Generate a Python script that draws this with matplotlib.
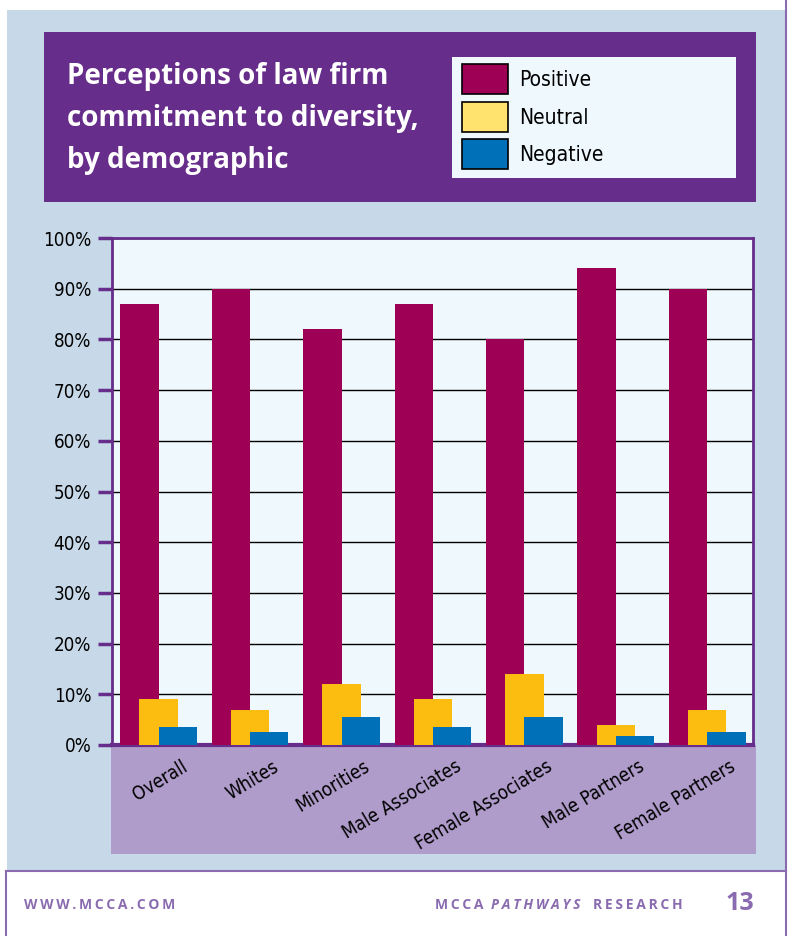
import matplotlib
matplotlib.use("Agg")
import matplotlib.pyplot as plt
from matplotlib.patches import Rectangle
from matplotlib.lines import Line2D
from matplotlib import font_manager
import numpy as np

# data (percent)
categories = ["Overall", "Whites", "Minorities", "Male Associates",
              "Female Associates", "Male Partners", "Female Partners"]
series_names = ["Positive", "Neutral", "Negative"]
positive = [87, 90, 82, 87, 80, 94, 90]
neutral = [9, 7, 12, 9, 14, 4, 7]
negative = [3.5, 2.6, 5.6, 3.5, 5.6, 1.7, 2.5]
yticks = [0, 10, 20, 30, 40, 50, 60, 70, 80, 90, 100]

W, H = 791, 936
c_pos, c_neu, c_neg = "#9e0055", "#fdbd10", "#0070b8"
c_neu_leg = "#ffe36e"
c_purple = "#662d8a"
c_bg = "#c7d9e8"
c_plot = "#eef8fd"
c_band = "#b09ccb"
c_foot = "#8a6bb0"
title_font = ["Open Sans", "DejaVu Sans"]

# a condensed face if one is around, else plain DejaVu
names = {f.name for f in font_manager.fontManager.ttflist}
cond = [f for f in font_manager.fontManager.ttflist
        if f.name == "DejaVu Sans" and f.stretch == "condensed"]
narrow = ["Liberation Sans Narrow"] if "Liberation Sans Narrow" in names else ["DejaVu Sans"]
stretch = "condensed" if cond else "normal"


def fx(x):
    return x / W


def fy(y):
    return 1 - y / H


def box(x0, y0, x1, y1, **kw):
    # rectangle in pixel coords (top-left origin) placed on the figure
    r = Rectangle((fx(x0), fy(y1)), fx(x1) - fx(x0), fy(y0) - fy(y1),
                  transform=fig.transFigure, **kw)
    fig.patches.append(r)
    return r


def spaced(s):
    return "\u2009".join(s)


fig = plt.figure(figsize=(W / 100, H / 100), dpi=100)
fig.patch.set_facecolor("white")

# page background panels
box(7, 10, 786, 871, facecolor=c_bg, edgecolor="none", zorder=0)
fig.add_artist(Line2D([fx(6), fx(786)], [fy(871), fy(871)], transform=fig.transFigure,
                      color=c_foot, lw=1.5))
fig.add_artist(Line2D([fx(6), fx(6)], [fy(871), fy(936)], transform=fig.transFigure,
                      color=c_foot, lw=1.5))
fig.add_artist(Line2D([fx(786), fx(786)], [fy(0), fy(936)], transform=fig.transFigure,
                      color=c_foot, lw=1.5))

# title box
box(44, 32, 756, 202, facecolor=c_purple, edgecolor="none", zorder=1)
fig.text(fx(67), fy(62), "Perceptions of law firm\ncommitment to diversity,\nby demographic",
         color="white", fontsize=20, fontweight="bold", family=title_font,
         va="top", ha="left", linespacing=1.6, zorder=2)

# legend
box(452, 57, 736, 178, facecolor=c_plot, edgecolor="none", zorder=2)
leg_colors = [c_pos, c_neu_leg, c_neg]
for i, (name, col) in enumerate(zip(series_names, leg_colors)):
    y0 = 64 + i * 37.5
    box(462, y0, 508, y0 + 30, facecolor=col, edgecolor="black", lw=1.2, zorder=3)
    fig.text(fx(519), fy(y0 + 16), name, fontsize=15, family=narrow, fontstretch=stretch,
             va="center", ha="left", zorder=3)

# band under the axis for category labels
box(111, 745, 756, 854, facecolor=c_band, edgecolor="none", zorder=1)

ax = fig.add_axes([fx(112), fy(745), fx(753) - fx(112), fy(238) - fy(745)])
ax.set_facecolor(c_plot)
ax.set_zorder(2)

x = np.arange(len(categories))
bw = 0.42
off = 0.21
ax.bar(x - off, positive, bw, color=c_pos, zorder=3)
ax.bar(x, neutral, bw, color=c_neu, zorder=4)
ax.bar(x + off, negative, bw, color=c_neg, zorder=5)

ax.set_xlim(-0.51, 6.5)
ax.set_ylim(0, 100)
ax.set_yticks(yticks)
ax.set_yticklabels([f"{v}%" for v in yticks], fontsize=13.5, family=narrow,
                   fontstretch=stretch)
ax.yaxis.grid(True, color="black", lw=1)
ax.set_axisbelow(True)
ax.tick_params(axis="y", length=10, width=2.5, color=c_purple, pad=5)
ax.set_xticks([])
for s in ax.spines.values():
    s.set_color(c_purple)
    s.set_linewidth(2)
ax.spines["bottom"].set_linewidth(3)

for i, lab in enumerate(categories):
    ax.text(i + 0.24, -2.4, lab, rotation=31, rotation_mode="anchor",
            ha="right", va="top", fontsize=13.5, family=narrow, fontstretch=stretch,
            clip_on=False)

# footer
foot = dict(fontsize=10, fontweight="bold", color=c_foot, family=title_font, va="center")
fig.text(fx(24), fy(905), spaced("WWW.MCCA.COM"), ha="left", **foot)
fig.text(fx(435), fy(905), spaced("MCCA"), ha="left", **foot)
fig.text(fx(491), fy(905), spaced("PATHWAYS"), ha="left", style="italic", **foot)
fig.text(fx(683), fy(905), spaced("RESEARCH"), ha="right", **foot)
fig.text(fx(754), fy(904), "13", fontsize=18, fontweight="bold", color=c_foot,
         family=title_font, va="center", ha="right")

fig.savefig("out.png", dpi=100, facecolor=fig.get_facecolor())
